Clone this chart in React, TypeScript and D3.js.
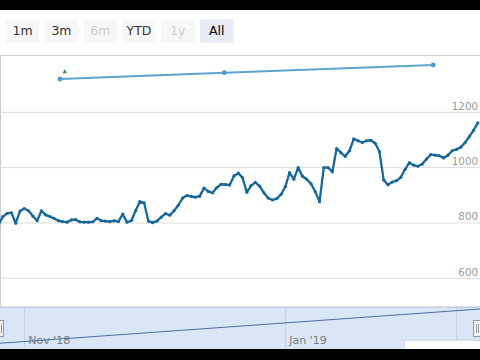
import React from "react";
import * as d3 from "d3";

// ---- data ----
const startDate = new Date(2018, 9, 26);
const prices = [
  794, 823, 835, 837, 799, 843, 852, 844, 825, 808,
  844, 829, 823, 816, 808, 805, 803, 811, 812, 804,
  803, 803, 804, 817, 808, 807, 805, 808, 805, 832,
  803, 808, 844, 877, 873, 807, 801, 807, 821, 834,
  828, 844, 864, 890, 899, 896, 893, 897, 926, 914,
  909, 928, 940, 939, 937, 970, 980, 964, 911, 935,
  947, 933, 909, 890, 883, 888, 903, 931, 982, 958,
  1000, 969, 958, 942, 913, 877, 1000, 1000, 985, 1069,
  1054, 1041, 1061, 1104, 1097, 1091, 1097, 1099, 1088, 1058,
  955, 938, 948, 953, 965, 994, 1018, 1009, 1005, 1013,
  1031, 1047, 1045, 1043, 1035, 1045, 1061, 1066, 1074, 1090,
  1112, 1135, 1162,
];
const upperDates = [
  new Date(2018, 10, 9, 8),
  new Date(2018, 11, 17, 18),
  new Date(2019, 1, 4, 14),
];
const upperValues = [100, 163, 240];
const flagDate = new Date(2018, 10, 10, 11);
const flagValue = 173;
const navDates = [new Date(2018, 9, 26), new Date(2019, 1, 16)];
const navValues = [13.5, 95.5];
const yTicks = [600, 800, 1000, 1200];
const navTicks = [
  { date: new Date(2018, 10, 1), label: "Nov '18" },
  { date: new Date(2019, 0, 1), label: "Jan '19" },
  { date: new Date(2019, 1, 10), label: "" },
];
const rangeButtons = ["1m", "3m", "6m", "YTD", "1y", "All"];
const disabledButtons = ["6m", "1y"];
const selectedButton = "All";

const series = prices.map((v, i) => ({ date: d3.timeDay.offset(startDate, i), v }));

export default function App() {
  const W = 480;
  const H = 360;
  const x = d3
    .scaleTime()
    .domain([new Date(2018, 10, 1), new Date(2019, 0, 1)])
    .range([24.3, 285.3]);
  const y = d3.scaleLinear().domain([600, 1200]).range([278.3, 112.3]);
  const yUp = d3.scaleLinear().domain([0, 340]).range([89, 55]);
  const yNav = d3.scaleLinear().domain([0, 100]).range([349, 307]);
  const btn = d3
    .scaleBand<string>()
    .domain(rangeButtons)
    .range([6, 233.3])
    .paddingInner(0.142);

  const mainLine = d3
    .line<{ date: Date; v: number }>()
    .x((d) => x(d.date))
    .y((d) => y(d.v));
  const upLine = d3
    .line<number>()
    .x((_, i) => x(upperDates[i]))
    .y((d) => yUp(d));
  const navLine = d3
    .line<number>()
    .x((_, i) => x(navDates[i]))
    .y((d) => yNav(d));

  const font = "DejaVu Sans, Verdana, sans-serif";
  const fx = x(flagDate);
  const fy = yUp(flagValue);

  return (
    <svg
      width={W}
      height={H}
      style={{ position: "fixed", left: 0, top: 0, display: "block" }}
      fontFamily={font}
    >
      <defs>
        <clipPath id="plot">
          <rect x={0} y={55} width={480} height={252} />
        </clipPath>
        <clipPath id="nav">
          <rect x={0} y={307} width={480} height={42} />
        </clipPath>
      </defs>
      <rect width={W} height={H} fill="#fff" />

      {/* range selector buttons */}
      {rangeButtons.map((b) => {
        const disabled = disabledButtons.includes(b);
        const sel = b === selectedButton;
        const bx = btn(b)!;
        return (
          <g key={b}>
            <rect
              x={bx}
              y={19.3}
              width={btn.bandwidth()}
              height={23.4}
              fill={sel ? "#e6ebf5" : "#f7f7f7"}
            />
            <text
              x={bx + btn.bandwidth() / 2}
              y={34.5}
              textAnchor="middle"
              fontSize={12.5}
              fill={sel ? "#000" : disabled ? "#cccccc" : "#333"}
            >
              {b}
            </text>
          </g>
        );
      })}

      {/* separator / top panel border */}
      <line x1={0} x2={480} y1={55.5} y2={55.5} stroke="#cfcfcf" strokeWidth={1} />
      <line x1={0.5} x2={0.5} y1={55} y2={307} stroke="#cccccc" strokeWidth={1} />

      {/* gridlines and labels */}
      {yTicks.map((t) => (
        <g key={t}>
          <line x1={0} x2={480} y1={y(t)} y2={y(t)} stroke="#dcdcdc" strokeWidth={1} />
          <text
            x={478}
            y={y(t) - 2.6}
            textAnchor="end"
            fontSize={10.3}
            fill="#9a9a9a"
          >
            {t}
          </text>
        </g>
      ))}

      {/* upper panel series */}
      <path d={upLine(upperValues)!} fill="none" stroke="#5aa5d0" strokeWidth={2} />
      {upperValues.map((v, i) => (
        <circle key={i} cx={x(upperDates[i])} cy={yUp(v)} r={2.4} fill="#4f9ccb" />
      ))}
      <path
        d={`M${fx},${fy - 2.4}L${fx + 2.2},${fy + 1.6}L${fx - 2.2},${fy + 1.6}Z`}
        fill="#3f8f3f"
      />

      {/* main series */}
      <g clipPath="url(#plot)">
        <path
          d={mainLine(series)!}
          fill="none"
          stroke="#17679a"
          strokeWidth={2.3}
          strokeLinejoin="round"
        />
        {series.map((d, i) => (
          <circle key={i} cx={x(d.date)} cy={y(d.v)} r={1.6} fill="#17679a" />
        ))}
      </g>

      {/* navigator */}
      <rect x={0} y={307} width={480} height={42} fill="#d9e6f6" />
      <g clipPath="url(#nav)">
        {navTicks.map((t, i) => (
          <g key={i}>
            <line
              x1={Math.round(x(t.date)) + 0.5}
              x2={Math.round(x(t.date)) + 0.5}
              y1={307}
              y2={349}
              stroke="#c3d1e6"
              strokeWidth={1}
            />
            {t.label && (
              <text x={x(t.date) + 4} y={344} fontSize={11} fill="#7a7a7a">
                {t.label}
              </text>
            )}
          </g>
        ))}
        <path d={navLine(navValues)!} fill="none" stroke="#4a6ea8" strokeWidth={1.1} />
      </g>
      <line x1={0} x2={480} y1={307} y2={307} stroke="#b4bfcc" strokeWidth={1} />

      {/* handles */}
      <g>
        <rect x={-3.5} y={320.5} width={7} height={16} fill="#f2f2f2" stroke="#999" strokeWidth={1} />
        <line x1={1.5} x2={1.5} y1={324} y2={333} stroke="#999" />
        <rect x={473.5} y={320.5} width={7} height={16} fill="#f2f2f2" stroke="#999" strokeWidth={1} />
        <line x1={476.5} x2={476.5} y1={324} y2={333} stroke="#999" />
        <line x1={478.5} x2={478.5} y1={324} y2={333} stroke="#999" />
      </g>

      {/* partial box at lower right */}
      <rect x={404.5} y={340.5} width={80} height={20} fill="#fff" stroke="#dddddd" strokeWidth={1} />
      <text x={411} y={357} fontSize={11} fill="#333">
        Selected
      </text>

      {/* black frame bars */}
      <rect x={0} y={0} width={480} height={10} fill="#000" />
      <rect x={0} y={349} width={480} height={11} fill="#000" />
    </svg>
  );
}
